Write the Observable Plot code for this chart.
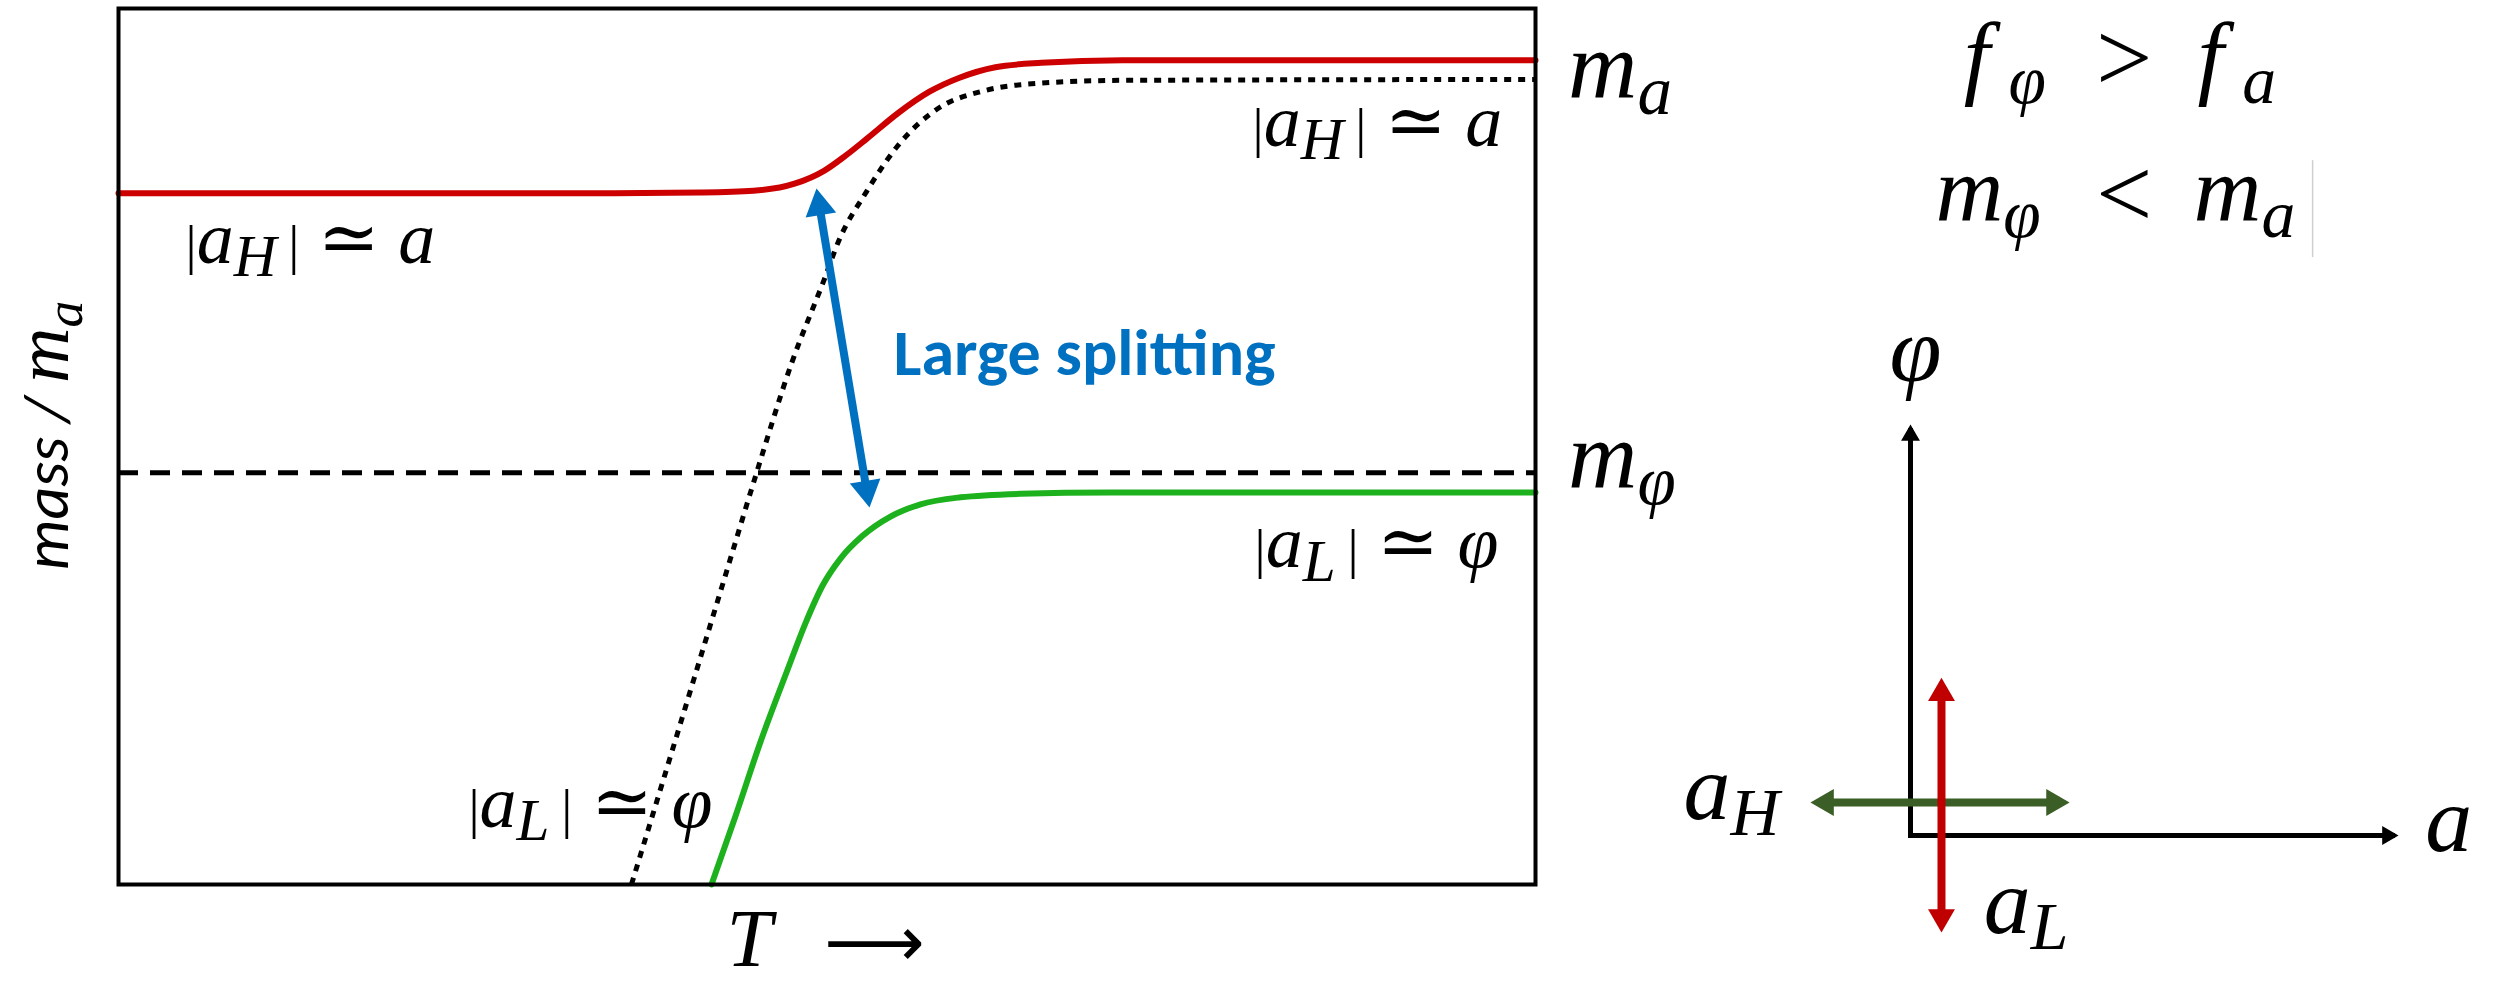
<!DOCTYPE html>
<html><head><meta charset="utf-8">
<script src="https://cdn.jsdelivr.net/npm/d3@7"></script>
<script src="https://cdn.jsdelivr.net/npm/@observablehq/plot@0.6"></script>
<style>
html,body{margin:0;padding:0;background:#fff;}
#fig{position:relative;width:2508px;height:985px;overflow:hidden;background:#fff;}
#fig svg{position:absolute;top:0;}
</style></head><body><div id="fig"></div>
<script>
// ---------------- data (main panel: T in arbitrary units 0..100, mass / m_a in 0..1) ----------------
const redT = [0, 34.02, 41.07, 44.81, 47.71, 49.82, 51.31, 52.86, 55.05, 57.23, 59.35, 61.89, 65.14, 70.85, 100];
const redMass = [0.789, 0.789, 0.790, 0.792, 0.800, 0.815, 0.832, 0.852, 0.881, 0.905, 0.921, 0.933, 0.938, 0.941, 0.941];
const dottedT = [36.20, 38.46, 40.58, 42.70, 45.03, 47.50, 49.79, 50.81, 52.79, 54.98, 57.94, 60.83, 63.66, 70.85, 100];
const dottedMass = [0, 0.120, 0.233, 0.346, 0.470, 0.595, 0.690, 0.734, 0.791, 0.843, 0.887, 0.905, 0.913, 0.918, 0.919];
const greenT = [41.85, 43.54, 45.31, 47.14, 48.55, 49.68, 50.95, 52.51, 54.48, 56.60, 59.42, 63.66, 70.01, 100];
const greenMass = [0, 0.078, 0.163, 0.242, 0.301, 0.341, 0.372, 0.398, 0.420, 0.434, 0.442, 0.446, 0.4475, 0.4475];
const mPhiLevel = [0.470];
const splitT = [49.26, 53.00];
const splitMass = [0.7945, 0.4304];
const splitLabel = ["Large splitting"];
const splitLabelT = [54.7];
const splitLabelMass = [0.582];
const stateText = ["|a_{H}| ≃ a", "|a_{H}| ≃ a", "|a_{L}| ≃ φ", "|a_{L}| ≃ φ"];
const stateT = [4.73, 80.03, 80.17, 24.70];
const stateMass = [0.710, 0.8436, 0.3619, 0.066];
const levelText = ["m_{a}", "m_{φ}"];
const levelT = [102.3, 102.3];
const levelMass = [0.898, 0.453];
const xLabel = ["T"], xLabelT = [42.9], xLabelMass = [-0.0936];
const xArrow = ["⟶"], xArrowT = [49.8], xArrowMass = [-0.0936];
const yLabel = ["mass / $m_{a}$"], yLabelT = [-3.53], yLabelMass = [0.5126];

// ---------------- data (field-space inset: a horizontal, φ vertical) ----------------
const axisX1 = [0, 0], axisY1 = [0, 0], axisX2 = [10, 0], axisY2 = [0, 10];
const aHx = [-2.05, 3.26], aHy = [0.803, 0.803];
const aLx = [0.635, 0.635], aLy = [-2.36, 3.84];
const insetText = ["f_{φ}", "f_{a}", "m_{φ}", "m_{a}", "φ", "a", "a_{H}", "a_{L}"];
const insetX = [1.09, 5.88, 0.51, 5.80, -0.43, 10.55, -4.65, 1.50];
const insetY = [18.22, 18.22, 14.94, 14.94, 11.07, -0.365, 0.39, -2.38];
const relText = [">", "<"], relX = [3.80, 3.80], relY = [18.12, 14.80];
const cursorX = [8.24], cursorY1 = [14.06], cursorY2 = [16.42];

// ---------------- layout / style ----------------
const MATH = "'Liberation Serif', 'DejaVu Serif', serif";
const SANS = "Carlito, 'Open Sans', sans-serif";
const H = 985, W1 = 1720, ML = 118, MR = W1 - 1535, MT = 8, MB = H - 884;
const RED = "#CC0000", GREEN = "#1DB11D", BLUE = "#0070C0", DKGREEN = "#3B5E26", RED2 = "#C00000";
const rows = (xs, ys) => xs.map((x, i) => ({x, y: ys[i]}));

// triangle-head helper: tip at data point, pointing along screen direction (ux, uy)
function head(x, y, ux, uy, r, fill) {
  const L = Math.hypot(ux, uy); ux /= L; uy /= L;
  const off = 1.555 * r;
  return Plot.dot([0], {x: [x], y: [y], r, symbol: "triangle", fill, stroke: "none",
    rotate: Math.atan2(ux, -uy) * 180 / Math.PI, dx: -off * ux, dy: -off * uy});
}

const pxT = (W1 - ML - MR) / 100, pxM = (H - MT - MB) / 1;
const bx = (splitT[1] - splitT[0]) * pxT, by = -(splitMass[1] - splitMass[0]) * pxM;

const main = Plot.plot({
  width: W1, height: H, marginLeft: ML, marginRight: MR, marginTop: MT, marginBottom: MB,
  x: {domain: [0, 100], axis: null},
  y: {domain: [0, 1], axis: null},
  style: {background: "transparent", overflow: "visible", fontFamily: MATH},
  marks: [
    Plot.ruleY(mPhiLevel, {stroke: "black", strokeWidth: 5, strokeDasharray: "20,12", strokeLinecap: "butt"}),
    Plot.line(rows(dottedT, dottedMass), {x: "x", y: "y", stroke: "black", strokeWidth: 5, strokeDasharray: "7,7", strokeLinecap: "butt", curve: "monotone-x"}),
    Plot.line(rows(redT, redMass), {x: "x", y: "y", stroke: RED, strokeWidth: 6, curve: "monotone-x"}),
    Plot.line(rows(greenT, greenMass), {x: "x", y: "y", stroke: GREEN, strokeWidth: 6, curve: "monotone-x"}),
    Plot.arrow([0], {x1: [splitT[0]], y1: [splitMass[0]], x2: [splitT[1]], y2: [splitMass[1]], stroke: BLUE, strokeWidth: 8, headLength: 0, insetStart: 14, insetEnd: 14, strokeLinecap: "butt"}),
    head(splitT[0], splitMass[0], -bx, -by, 11.5, BLUE),
    head(splitT[1], splitMass[1], bx, by, 11.5, BLUE),
    Plot.text(splitLabel, {x: splitLabelT, y: splitLabelMass, text: d => d, textAnchor: "start", lineAnchor: "bottom", fill: BLUE, fontFamily: SANS, fontWeight: "bold", fontSize: 64}),
    Plot.text(stateText, {x: stateT, y: stateMass, text: d => d, textAnchor: "start", lineAnchor: "bottom", fontSize: 74, fontStyle: "italic", fontFamily: MATH}),
    Plot.text(levelText, {x: levelT, y: levelMass, text: d => d, textAnchor: "start", lineAnchor: "bottom", fontSize: 96, fontStyle: "italic", fontFamily: MATH}),
    Plot.text(xLabel, {x: xLabelT, y: xLabelMass, text: d => d, textAnchor: "start", lineAnchor: "bottom", fontSize: 82, fontStyle: "italic", fontFamily: MATH}),
    Plot.text(xArrow, {x: xArrowT, y: xArrowMass, text: d => d, textAnchor: "start", lineAnchor: "bottom", fontSize: 70, fontFamily: "'DejaVu Sans', sans-serif"}),
    Plot.text(yLabel, {x: yLabelT, y: yLabelMass, text: d => d, rotate: -90, textAnchor: "middle", lineAnchor: "bottom", fontSize: 64, fontStyle: "italic", fontFamily: SANS}),
    Plot.frame({stroke: "black", strokeWidth: 4})
  ]
});

const X0 = 1720, W2 = 2508 - X0;
const inset = Plot.plot({
  width: W2, height: H, margin: 0,
  x: {domain: [0, 10], range: [1910 - X0, 2398 - X0], axis: null},
  y: {domain: [0, 10], range: [835, 424], axis: null},
  style: {background: "transparent", overflow: "visible", fontFamily: MATH},
  marks: [
    Plot.ruleX(cursorX, {y1: cursorY1, y2: cursorY2, stroke: "#cfcfcf", strokeWidth: 1.5}),
    Plot.arrow([0, 1], {x1: axisX1, y1: axisY1, x2: axisX2, y2: axisY2, stroke: "black", strokeWidth: 5, headLength: 0, insetEnd: 6, strokeLinecap: "square"}),
    head(axisX2[0], axisY2[0], 1, 0, 7, "black"),
    head(axisX2[1], axisY2[1], 0, -1, 7, "black"),
    Plot.arrow([0], {x1: [aHx[0]], y1: [aHy[0]], x2: [aHx[1]], y2: [aHy[1]], stroke: DKGREEN, strokeWidth: 8, headLength: 0, insetStart: 10, insetEnd: 10, strokeLinecap: "butt"}),
    head(aHx[0], aHy[0], -1, 0, 10, DKGREEN),
    head(aHx[1], aHy[1], 1, 0, 10, DKGREEN),
    Plot.arrow([0], {x1: [aLx[0]], y1: [aLy[0]], x2: [aLx[1]], y2: [aLy[1]], stroke: RED2, strokeWidth: 8, headLength: 0, insetStart: 10, insetEnd: 10, strokeLinecap: "butt"}),
    head(aLx[0], aLy[0], 0, 1, 10, RED2),
    head(aLx[1], aLy[1], 0, -1, 10, RED2),
    Plot.text(insetText, {x: insetX, y: insetY, text: d => d, textAnchor: "start", lineAnchor: "bottom", fontSize: 94, fontStyle: "italic", fontFamily: MATH}),
    Plot.text(relText, {x: relX, y: relY, text: d => d, textAnchor: "start", lineAnchor: "bottom", fontSize: 100, fontFamily: MATH})
  ]
});
main.style.left = "0px";
inset.style.left = X0 + "px";
const fig = document.getElementById("fig");
fig.appendChild(main);
fig.appendChild(inset);

// ---------------- rich text: subscripts, small bars, math segments ----------------
function richOpts(s) {
  if (s.startsWith("|")) return {family: MATH, sub: 0.8, shift: 0.18, bar: 0.75, barGap: 0.16};
  if (s.includes("$")) return {family: SANS, sub: 0.7, shift: 0.17, bar: 0.6, barGap: 0, mathSize: 1.2};
  return {family: MATH, sub: 0.72, shift: 0.17, bar: 0.6, barGap: 0};
}
function richify(root) {
  root.querySelectorAll("text").forEach(t => {
    const s = t.textContent;
    if (s === "Large splitting") { t.setAttribute("textLength", 382); t.setAttribute("lengthAdjust", "spacingAndGlyphs"); return; }
    if (!/[_|$]/.test(s)) return;
    const o = richOpts(s);
    const fs = parseFloat(getComputedStyle(t).fontSize);
    const segs = [];
    let math = false, buf = "";
    const flush = () => { if (buf) segs.push({text: buf, kind: "n", math}); buf = ""; };
    for (let i = 0; i < s.length; i++) {
      const c = s[i];
      if (c === "$") { flush(); math = !math; }
      else if (c === "_" && s[i + 1] === "{") { flush(); const j = s.indexOf("}", i); segs.push({text: s.slice(i + 2, j), kind: "sub", math}); i = j; }
      else if (c === "|") { flush(); segs.push({text: "|", kind: "bar", math}); }
      else buf += c;
    }
    flush();
    while (t.firstChild) t.removeChild(t.firstChild);
    let shifted = 0, prev = null;
    for (const g of segs) {
      const ts = document.createElementNS("http://www.w3.org/2000/svg", "tspan");
      let base = fs;
      ts.setAttribute("font-family", g.math ? MATH : o.family);
      ts.setAttribute("font-style", "italic");
      if (g.math && o.mathSize) base = fs * o.mathSize;
      let size = base, dy = 0;
      if (g.kind === "sub") {
        const sh = base * o.shift; size = base * o.sub; dy = sh - shifted; shifted = sh;
        if (prev && prev.kind === "n" && /f$/.test(prev.text)) ts.setAttribute("dx", base * 0.2);
      } else { dy = -shifted; shifted = 0; }
      if (g.kind === "bar") {
        size = base * o.bar; ts.setAttribute("font-style", "normal");
        if (prev && prev.kind === "sub" && o.barGap) ts.setAttribute("dx", base * o.barGap);
      }
      ts.setAttribute("font-size", size);
      if (dy) ts.setAttribute("dy", dy);
      ts.textContent = g.text;
      t.appendChild(ts);
      prev = g;
    }
  });
}
richify(main);
richify(inset);
</script></body></html>
